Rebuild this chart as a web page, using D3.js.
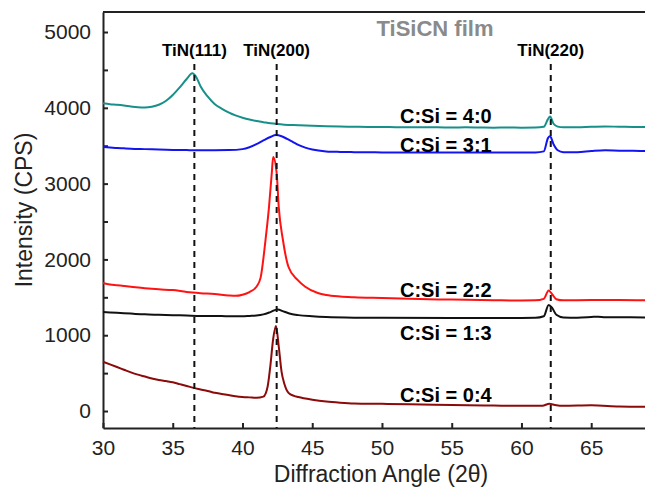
<!DOCTYPE html>
<html>
<head>
<meta charset="utf-8">
<script src="https://cdn.jsdelivr.net/npm/d3@7"></script>
<style>
  body { margin: 0; background: #fff; }
  svg { display: block; font-family: Arial, "Liberation Sans", sans-serif; }
  .axis text { font-size: 21px; fill: #222; }
  .axis path, .axis line { stroke: #222; stroke-width: 2; }
  .peak { font-size: 17px; font-weight: bold; }
  .ratio { font-size: 20px; font-weight: bold; }
</style>
</head>
<body>
<svg id="svg1" width="645" height="487"></svg>
<script>

// data
var xTicks = [30, 35, 40, 45, 50, 55, 60, 65];
var yTicks = [0, 500, 1000, 1500, 2000, 2500, 3000, 3500, 4000, 4500, 5000];

var peakNames = ["TiN(111)", "TiN(200)", "TiN(220)"];
var peakAngles = [36.55, 42.45, 62.1];

var ratioNames = ["C:Si = 4:0", "C:Si = 3:1", "C:Si = 2:2", "C:Si = 1:3", "C:Si = 0:4"];

var angles40 = [30,30.5,31,31.5,32,32.5,33,33.5,34,34.5,35,35.5,36,36.4,36.7,37,37.5,38,38.5,39,39.5,40,40.5,41,41.5,42,42.5,43,44,45,46,47,48,49,50,51,52,53,54,55,56,57,58,59,60,61,61.6,61.9,62.05,62.3,62.6,63,64,65,66,67,68,69];
var values40 = [4060,4048,4040,4030,4018,4008,4005,4015,4040,4090,4170,4270,4380,4455,4400,4280,4150,4050,3990,3940,3900,3870,3845,3825,3810,3795,3785,3778,3770,3762,3756,3752,3750,3748,3748,3745,3745,3742,3742,3740,3742,3740,3738,3740,3738,3740,3750,3850,3885,3790,3752,3742,3742,3750,3754,3750,3748,3746];

var angles31 = [30,30.5,31,31.5,32,33,34,35,36,37,38,39,40,40.5,41,41.5,42,42.4,42.8,43.2,43.6,44,44.5,45,46,47,48,50,52,54,56,58,60,61,61.6,61.9,62.05,62.3,62.6,63,64,65,66,67,68,69];
var values31 = [3485,3478,3470,3465,3460,3455,3450,3445,3442,3440,3440,3442,3455,3480,3520,3570,3615,3640,3625,3590,3550,3510,3475,3450,3425,3418,3415,3412,3410,3410,3410,3410,3410,3412,3425,3600,3625,3520,3440,3415,3415,3430,3440,3435,3432,3430];

var angles22 = [30,30.5,31,31.5,32,33,34,35,36,37,38,39,39.5,40,40.5,41,41.3,41.65,41.9,42.1,42.2,42.45,42.6,42.9,43.3,43.95,44.5,45.4,46,47,48,50,52,55,58,60,61,61.6,61.95,62.2,62.5,63,65,67,69];
var values22 = [1690,1670,1660,1650,1640,1620,1605,1595,1570,1555,1545,1525,1520,1535,1570,1640,1760,2256,2690,3140,3350,3140,2690,2256,1900,1730,1640,1557,1530,1510,1500,1490,1480,1470,1462,1458,1460,1480,1590,1540,1475,1460,1465,1465,1460];

var angles13 = [30,31,32,33,34,35,36,37,38,39,40,40.5,41,41.5,42,42.5,43,43.5,44,45,46,48,50,55,60,61,61.6,61.95,62.2,62.5,63,64,65,65.5,66,69];
var values13 = [1305,1295,1285,1275,1270,1265,1260,1255,1255,1250,1250,1255,1260,1275,1305,1340,1310,1280,1265,1250,1240,1232,1230,1228,1228,1230,1250,1400,1360,1270,1235,1232,1240,1245,1238,1235];

var angles04 = [30,30.5,31,31.5,32,32.5,33,33.5,34,34.5,35,35.5,36,36.5,37,37.5,38,38.5,39,39.5,40,40.5,41,41.5,41.8,42,42.2,42.4,42.6,42.8,43,43.3,43.7,44,45,46,47,48,50,52,55,58,60,61.5,62,62.4,63,65,67,69];
var values04 = [650,615,580,545,510,480,455,430,410,395,380,355,330,305,285,265,240,225,210,195,185,180,175,190,320,600,950,1120,850,520,360,240,200,185,150,125,110,100,95,88,80,72,68,70,95,80,68,75,60,55];

var colors = ["#17908a", "#1414f0", "#ff1212", "#111111", "#8b0a0a"];

var svg = d3.select("#svg1");

var x = d3.scaleLinear().domain([30, 69]).range([103, 647]);
var y = d3.scaleLinear().domain([-224, 5264]).range([428, 12]);

var xAxis = d3.axisBottom(x)
    .tickValues(xTicks)
    .tickSizeInner(-5)
    .tickSizeOuter(0)
    .tickPadding(12);

var yAxis = d3.axisLeft(y)
    .tickValues(yTicks)
    .tickSizeInner(-5)
    .tickSizeOuter(0)
    .tickPadding(12)
    .tickFormat(function(d) { return d % 1000 === 0 ? d : ""; });

svg.append("g")
    .attr("class", "axis")
    .attr("transform", "translate(0,428)")
    .call(xAxis);

svg.append("g")
    .attr("class", "axis")
    .attr("transform", "translate(103,0)")
    .call(yAxis);

// top border
svg.append("line")
    .attr("x1", 103).attr("x2", 645)
    .attr("y1", 12).attr("y2", 12)
    .style("stroke", "#222").style("stroke-width", 2);

// series
var series = [
  { a: angles40, v: values40 },
  { a: angles31, v: values31 },
  { a: angles22, v: values22 },
  { a: angles13, v: values13 },
  { a: angles04, v: values04 }
];

var line = d3.line()
    .x(function(d) { return x(d[0]); })
    .y(function(d) { return y(d[1]); })
    .curve(d3.curveMonotoneX);

series.forEach(function(s, i) {
  var pts = s.a.map(function(a, j) { return [a, s.v[j]]; });
  svg.append("path")
      .datum(pts)
      .attr("d", line)
      .style("fill", "none")
      .style("stroke", colors[i])
      .style("stroke-width", 2);
});

// dashed reference lines
svg.selectAll(".dash")
    .data(peakAngles)
  .enter().append("line")
    .attr("class", "dash")
    .attr("x1", function(d) { return x(d); })
    .attr("x2", function(d) { return x(d); })
    .attr("y1", 64)
    .attr("y2", 428)
    .style("stroke", "#111")
    .style("stroke-width", 2)
    .style("stroke-dasharray", "6,5");

svg.selectAll(".peak")
    .data(peakNames)
  .enter().append("text")
    .attr("class", "peak")
    .attr("x", function(d, i) { return x(peakAngles[i]); })
    .attr("y", 56)
    .attr("text-anchor", "middle")
    .text(function(d) { return d; });

var ratioY = [123, 152, 297, 340, 402];
svg.selectAll(".ratio")
    .data(ratioNames)
  .enter().append("text")
    .attr("class", "ratio")
    .attr("x", 400)
    .attr("y", function(d, i) { return ratioY[i]; })
    .text(function(d) { return d; });

svg.append("text")
    .attr("x", 435)
    .attr("y", 36)
    .attr("text-anchor", "middle")
    .style("font-size", "22px")
    .style("font-weight", "bold")
    .style("fill", "#8a8a8a")
    .text("TiSiCN film");

svg.append("text")
    .attr("transform", "translate(32,210) rotate(-90)")
    .attr("text-anchor", "middle")
    .style("font-size", "23px")
    .style("fill", "#222")
    .text("Intensity (CPS)");

svg.append("text")
    .attr("x", 381)
    .attr("y", 482)
    .attr("text-anchor", "middle")
    .style("font-size", "23px")
    .style("fill", "#222")
    .text("Diffraction Angle (2θ)");

</script>
</body>
</html>
